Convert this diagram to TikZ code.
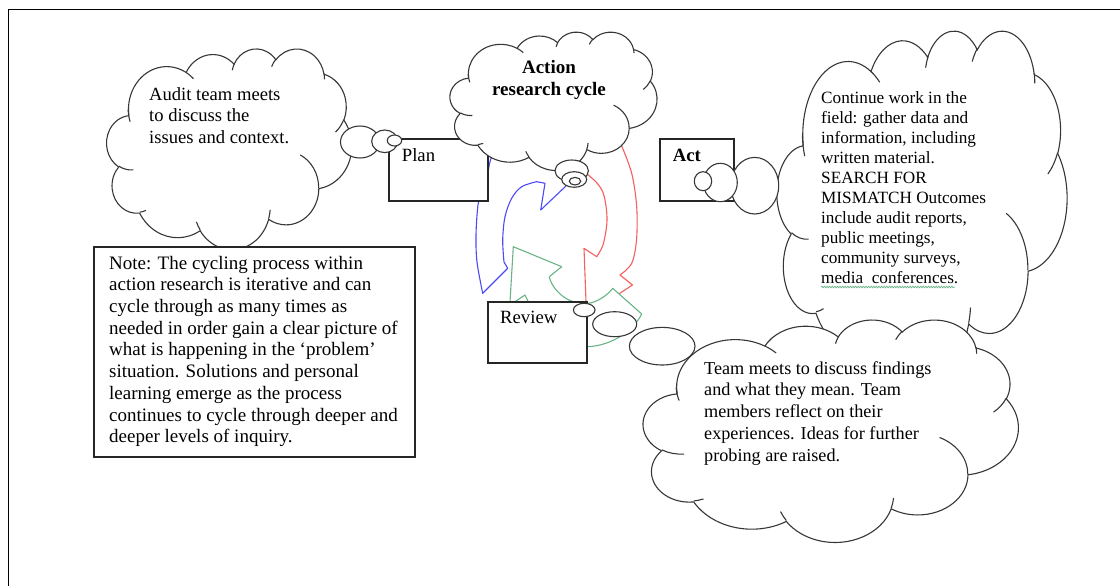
\documentclass[tikz,border=0pt]{standalone}
\usepackage{fontspec}
\setmainfont{Liberation Serif}
\usetikzlibrary{shapes.geometric,decorations.pathmorphing}
\definecolor{bluea}{RGB}{75,75,245}
\definecolor{reda}{RGB}{245,95,95}
\definecolor{greena}{RGB}{105,180,135}
\definecolor{lineg}{RGB}{55,55,55}
\newcommand\cang[3]{atan2((#1)*sin(#3),(#2)*cos(#3))}
\newcommand\carc[4]{arc[x radius=#1, y radius=#2, start angle={\cang{#1}{#2}{#3}}, delta angle={(\cang{#1}{#2}{#3+#4}-\cang{#1}{#2}{#3})-360*round((\cang{#1}{#2}{#3+#4}-\cang{#1}{#2}{#3}-(#4))/360)}]}
\newcommand\wcloud[5]{%
 \pgfmathsetmacro\cwx{#4/432}\pgfmathsetmacro\cwy{#5/432}%
 \begin{scope}[shift={(#2,#3)},x=\cwx pt,y=-\cwy pt]
  \filldraw[cloudst] (39.00,143.70)
   \carc{67.53}{91.90}{-190.48748}{123.78053}
   \carc{53.33}{72.67}{-144.10238}{89.94523}
   \carc{43.65}{59.45}{-145.80792}{99.72302}
   \carc{48.57}{65.95}{-130.98607}{117.24173}
   \carc{53.33}{72.73}{-78.70888}{109.02692}
   \carc{67.75}{92.20}{-46.26725}{130.269}
   \carc{57.85}{78.67}{0.62502}{114.03333}
   \carc{67.52}{92.15}{22.4516}{115.17255}
   \carc{77.20}{105.43}{66.24263}{75.71102}
   \carc{43.60}{59.18}{-274.94208}{146.73557}
   \carc{43.45}{59.45}{-246.8285}{152.51885} -- cycle;
  \draw[cuspst]
   (46.93,261.77) \carc{43.45}{59.45}{86.742}{26.4295}
   (69.28,348.99) \carc{43.60}{59.18}{73.61047}{11.44747}
   (164.78,390.90) \carc{67.52}{92.15}{137.62415}{14.0811}
   (288.27,347.51) \carc{67.52}{92.15}{6.45327}{15.99835}
   (341.29,229.54) \carc{57.85}{78.67}{-70.29235}{70.91737}
   (417.98,153.54) \carc{53.33}{72.73}{30.31803}{27.7515}
   (383.24,54.26) \carc{48.57}{65.95}{-13.74433}{14.8589}
   (290.78,39.52) \carc{48.57}{65.95}{-149.18145}{18.19537}
   (221.41,47.20) \carc{43.65}{59.45}{-163.49427}{17.68635}
   (140.00,51.92) \carc{67.53}{91.90}{-66.70695}{12.31935}
   (41.27,157.89) \carc{67.53}{91.90}{155.64718}{21.71497};
  \coordinate (#1) at (216,216);
 \end{scope}}
\tikzset{
 cloudst/.style={draw=lineg, fill=white, line width=1.1pt},
 cuspst/.style={draw=lineg, line width=1.1pt},
 boxst/.style={draw=black!85, fill=white, line width=1.1pt, rectangle, inner sep=0pt},
 bub/.style={draw=lineg, fill=white, line width=1.1pt, ellipse, inner sep=0pt},
 txt/.style={inner sep=0pt, align=left, text=black},
 arrst/.style={fill=white, line width=1.1pt, line join=round}
}
\begin{document}
\begin{tikzpicture}[x=1pt,y=-1pt]
\useasboundingbox (0,0) rectangle (1120,586);
% frame
\draw[line width=1.4pt, black] (8.5,586) -- (8.5,9.5) -- (1120,9.5);
% curved block arrows
\filldraw[arrst, draw=bluea] (567,185) -- (548,126) -- (534,133)
 -- plot[smooth, tension=0.55] coordinates {(534,133) (512,139) (497,148) (490.5,160) (487.7,173) (482,190) (478,205) (476,235) (477,262) (482.7,293.3)}
 -- (507.7,268.3)
 -- plot[smooth, tension=0.55] coordinates {(504,262) (502.7,240) (505,216.7) (511.7,198.3) (521.7,186.7) (536.7,181.7)}
 -- (545,183.3) -- (540.7,210) -- cycle;
\filldraw[arrst, draw=reda] (600,140)
 -- plot[smooth, tension=0.55] coordinates {(621.7,146) (631.7,173.3) (636.7,206.7) (636.5,240) (631.7,263.3) (620,275)}
 -- (632.5,285) -- (586.5,315) -- (584,248.3)
 -- plot[smooth, tension=0.55] coordinates {(596.7,256.7) (603,245) (606.7,225) (606.5,210) (603.3,193.3) (597,183) (588.3,175)}
 -- (580,172) -- (580,150) -- cycle;
\filldraw[arrst, draw=greena] (513.3,246.7) -- (561.7,266.7) -- (549.3,276.7)
 .. controls (551,286) and (561,298) .. (573.3,301.7) -- (578,312) -- (588.3,303.3)
 .. controls (596,302.5) and (607,296) .. (612.7,288.3) -- (641.7,314)
 .. controls (634,330) and (612,346) .. (587,346.7) -- (560,345) -- (515,320) -- (510,301.7) -- cycle;
\draw[greena, line width=1.1pt, line join=round] (515,301.7) -- (525,295) -- (528.3,301.7);
% boxes
\node[boxst, minimum width=99pt, minimum height=62pt] (plan) at (438.5,170) {};
\node[boxst, minimum width=74pt, minimum height=62pt] (act) at (697,170) {};
\node[boxst, minimum width=99pt, minimum height=61pt] (review) at (537.5,332.5) {};
% clouds
\wcloud{auditcloud}{106.7}{48.3}{245}{200.7}
\wcloud{actioncloud}{450}{31.7}{207}{138.3}
\wcloud{fieldcloud}{777}{30}{290}{345}
\wcloud{teamcloud}{643.3}{319.3}{375}{222.4}
% note box
\node[boxst, minimum width=321pt, minimum height=210pt] (note) at (254.5,352) {};
% thought bubbles
\node[bub, minimum width=39pt, minimum height=32pt] (e1) at (360,142) {};
\node[bub, minimum width=26pt, minimum height=22.6pt] (e2) at (384.7,141.3) {};
\node[bub, minimum width=14.4pt, minimum height=11pt] (e3) at (394.5,140.5) {};
\node[bub, minimum width=33.4pt, minimum height=21.6pt] (f1) at (571.7,170.8) {};
\node[bub, minimum width=25pt, minimum height=15.6pt] (f2) at (574.2,179.5) {};
\node[bub, minimum width=11.4pt, minimum height=7.6pt] (f3) at (575,181.2) {};
\node[bub, minimum width=48pt, minimum height=56.6pt] (g3) at (754.7,185.7) {};
\node[bub, minimum width=34pt, minimum height=38.4pt] (g2) at (720.3,182.5) {};
\node[bub, minimum width=17.4pt, minimum height=19pt] (g1) at (703,181.2) {};
\node[bub, minimum width=21.6pt, minimum height=13.4pt] (h1) at (584.2,310) {};
\node[bub, minimum width=44pt, minimum height=25pt] (h2) at (614.7,324.2) {};
\node[bub, minimum width=65.6pt, minimum height=37.6pt] (h3) at (662.2,346.2) {};
% texts
\node[txt, anchor=base west, font=\fontsize{18.7}{21.5}\selectfont] (plantxt) at (401.7,161.7) {Plan};
\node[txt, anchor=base west, font=\bfseries\fontsize{18.7}{21.5}\selectfont] (acttxt) at (672.7,161.7) {Act};
\node[txt, anchor=base west, font=\fontsize{18.7}{21.5}\selectfont] (reviewtxt) at (500,323.3) {Review};
\node[txt, anchor=north west, font=\fontsize{18.6}{21.5}\selectfont] (audittxt) at (149,85) {\strut Audit team meets\\to discuss the\\issues and context.};
\node[txt, anchor=north, align=center, font=\bfseries\fontsize{19}{21.7}\selectfont] (actiontxt) at (549,58.1) {\strut Action\\research cycle};
\node[txt, anchor=north west, font=\fontsize{17.2}{20}\selectfont] (fieldtxt) at (821,89.3) {\strut Continue work in the\\field: gather data and\\information, including\\written material.\\SEARCH FOR\\MISMATCH Outcomes\\include audit reports,\\public meetings,\\community surveys,\\media\ \ conferences.};
\coordinate (sqa) at (821,287);
\coordinate (sqb) at (955,287);
\draw[greena, line width=0.7pt, decorate, decoration={snake, amplitude=0.8pt, segment length=2.6pt}] (sqa) -- (sqb);
\node[txt, anchor=north west, font=\fontsize{18.2}{21.8}\selectfont] (teamtxt) at (704,358.7) {\strut Team meets to discuss findings\\and what they mean. Team\\members reflect on their\\experiences. Ideas for further\\probing are raised.};
\node[txt, anchor=north west, font=\fontsize{19}{21.7}\selectfont] (notetxt) at (109,253.8) {\strut Note: The cycling process within\\action research is iterative and can\\cycle through as many times as\\needed in order gain a clear picture of\\what is happening in the ‘problem’\\situation. Solutions and personal\\learning emerge as the process\\continues to cycle through deeper and\\deeper levels of inquiry.};
\end{tikzpicture}
\end{document}
